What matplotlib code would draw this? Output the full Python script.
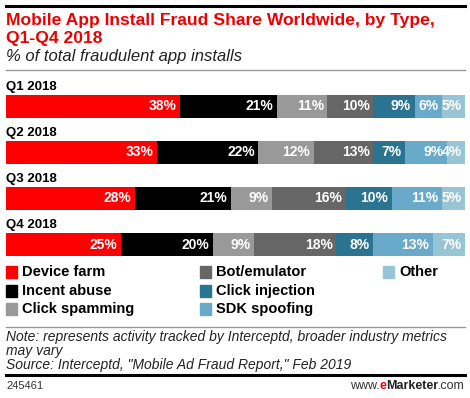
import numpy as np
import matplotlib
matplotlib.use("Agg")
import matplotlib.pyplot as plt
from matplotlib.patches import Rectangle
from matplotlib.lines import Line2D

plt.rcParams['font.family'] = ['Liberation Sans', 'DejaVu Sans']

quarters = ["Q1 2018", "Q2 2018", "Q3 2018", "Q4 2018"]
types = ["Device farm", "Incent abuse", "Click spamming", "Bot/emulator",
         "Click injection", "SDK spoofing", "Other"]
device_farm = [38, 33, 28, 25]
incent_abuse = [21, 22, 21, 20]
click_spamming = [11, 12, 9, 9]
bot_emulator = [10, 13, 16, 18]
click_injection = [9, 7, 10, 8]
sdk_spoofing = [6, 9, 11, 13]
other = [5, 4, 5, 7]

series = [device_farm, incent_abuse, click_spamming, bot_emulator,
          click_injection, sdk_spoofing, other]
colors = ["#ff0000", "#000000", "#999999", "#666666", "#2b7491", "#69a9c9", "#98c5d6"]

W, H = 470, 398
fig = plt.figure(figsize=(W / 100, H / 100), dpi=100)

def fy(py):
    return 1 - py / H

def fx(px):
    return px / W

# top rule, title, subtitle
fig.add_artist(Line2D([fx(6), fx(465)], [fy(6), fy(6)], color="black", lw=2.2))
fig.text(fx(6), fy(20), "Mobile App Install Fraud Share Worldwide, by Type,",
         color="#ee0000", fontsize=12.6, fontweight="bold", va="center")
fig.text(fx(6), fy(38), "Q1-Q4 2018", color="#ee0000", fontsize=12.6,
         fontweight="bold", va="center")
fig.text(fx(6), fy(57), "% of total fraudulent app installs", color="#222222",
         fontsize=12, style="italic", va="center")
fig.add_artist(Line2D([fx(6), fx(465)], [fy(70), fy(70)], color="#999999", lw=1))

# bars
ax = fig.add_axes([fx(6), fy(267.5), fx(459), 184 / H])
y = np.arange(len(quarters))
left = np.zeros(len(quarters))
for vals, c in zip(series, colors):
    vals = np.array(vals, dtype=float)
    ax.barh(y, vals, left=left, height=0.48, color=c, edgecolor="none")
    for i, v in enumerate(vals):
        ax.text(left[i] + v - 0.75, y[i], f"{int(v)}%", color="white",
                fontsize=10, fontweight="bold", ha="right", va="center")
    left += vals
for i, q in enumerate(quarters):
    ax.text(0, y[i] - 0.42, q, fontsize=9.5, fontweight="bold", ha="left", va="center")
ax.set_xlim(0, 100)
ax.set_ylim(len(quarters) - 0.5, -0.5)
ax.axis("off")

# legend
col_x = [6, 200, 383]
row_y = [272, 291, 309]
order = [(0, 0), (0, 1), (0, 2), (1, 0), (1, 1), (1, 2), (2, 0)]
for (col, row), name, c in zip(order, types, colors):
    px, py = col_x[col], row_y[row]
    fig.add_artist(Rectangle((fx(px), fy(py + 6)), fx(11), 12 / H, color=c,
                             transform=fig.transFigure))
    fig.text(fx(px + 16), fy(py), name, fontsize=10.5, fontweight="bold", va="center")

# notes
fig.add_artist(Line2D([fx(6), fx(465)], [fy(327), fy(327)], color="#999999", lw=1))
note_kw = dict(fontsize=10, style="italic", va="center", color="#222222")
fig.text(fx(6), fy(337), "Note: represents activity tracked by Interceptd, broader industry metrics",
         **note_kw)
fig.text(fx(6), fy(351), "may vary", **note_kw)
fig.text(fx(6), fy(365), 'Source: Interceptd, "Mobile Ad Fraud Report," Feb 2019', **note_kw)
fig.add_artist(Line2D([fx(6), fx(465)], [fy(375), fy(375)], color="black", lw=2.2))
fig.text(fx(6), fy(386), "245461", fontsize=8, va="center", color="#333333")

# www.eMarketer.com, built right to left
renderer = fig.canvas.get_renderer()
parts = [(".com", "normal", "#333333"), ("Marketer", "bold", "#222222"),
         ("e", "bold", "#ee0000"), ("www.", "normal", "#333333")]
xr = 465
for s, wt, c in parts:
    t = fig.text(fx(xr), fy(386), s, fontsize=9, fontweight=wt, va="center",
                 ha="right", color=c)
    xr -= t.get_window_extent(renderer).width

fig.savefig("out.png", dpi=100)
